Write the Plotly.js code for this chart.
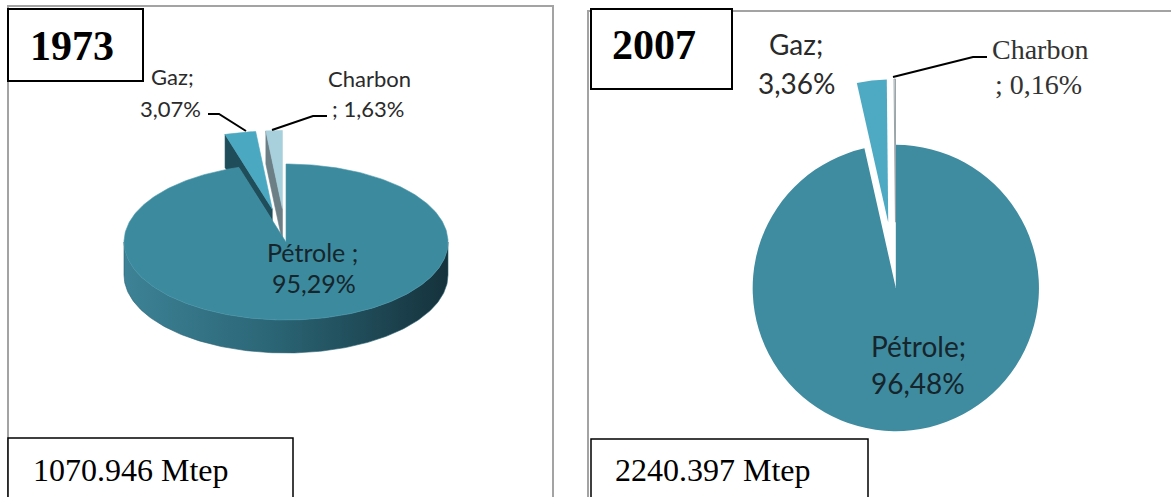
<!DOCTYPE html>
<html><head><meta charset="utf-8">
<script src="https://cdn.plot.ly/plotly-3.0.1.min.js"></script>
<style>html,body{margin:0;padding:0;background:#fff;overflow:hidden}#chart{width:1171px;height:497px}</style>
</head><body><div id="chart"></div>
<script>
// ---- data ----
const sources = ["Pétrole", "Gaz", "Charbon"];
const share1973 = [95.29, 3.07, 1.63];
const share2007 = [96.48, 3.36, 0.16];
const years = ["1973", "2007"];
const totals = ["1070.946 Mtep", "2240.397 Mtep"];

function fmt(v){ return v.toFixed(2).replace('.', ',') + '%'; }

// ---- 3D pie (1973) geometry / style ----
const G = {cx: 286, cy: 242, rx: 162, ry: 78, depth: 33};
const explode1973 = [0, 0.43, 0.43];
const top1973 = ['#3b8a9e', '#4aa8c1', '#a7d0dc'];
const wall1973 = ['#2a6373', '#1f4d5a', '#6c7f86'];

const traces = [];
function P(theta, dx, dy, down){
  const t = theta * Math.PI / 180;
  return [G.cx + dx + G.rx * Math.sin(t), G.cy + dy - G.ry * Math.cos(t) + (down || 0)];
}
function poly(pts, color, grad, lineColor){
  const tr = {type: 'scatter', mode: 'lines', x: pts.map(p => p[0]), y: pts.map(p => p[1]),
    fill: 'toself', fillcolor: color, line: {color: lineColor || color, width: 0.6},
    hoverinfo: 'skip', showlegend: false, xaxis: 'x', yaxis: 'y'};
  if (grad) tr.fillgradient = grad;
  return tr;
}
const tot73 = share1973.reduce((a, b) => a + b, 0);
let acc = 0;
const slices = share1973.map((v, i) => {
  const a0 = acc, a1 = acc + v / tot73 * 360; acc = a1;
  const mid = (a0 + a1) / 2 * Math.PI / 180;
  const k = explode1973[i];
  return {i, a0, a1, mid, dx: k * G.rx * Math.sin(mid), dy: -k * G.ry * Math.cos(mid)};
});
// back to front
slices.slice().sort((a, b) => Math.cos(b.mid) - Math.cos(a.mid)).forEach(s => {
  const apex = [G.cx + s.dx, G.cy + s.dy];
  const d = G.depth;
  const lo = Math.max(s.a0, 90), hi = Math.min(s.a1, 270);
  if (lo < hi) {
    const pts = [];
    for (let a = lo; a <= hi; a += 1) pts.push(P(a, s.dx, s.dy, 0));
    pts.push(P(hi, s.dx, s.dy, 0));
    pts.push(P(hi, s.dx, s.dy, d));
    for (let a = hi; a >= lo; a -= 1) pts.push(P(a, s.dx, s.dy, d));
    pts.push(P(lo, s.dx, s.dy, d));
    pts.push(pts[0]);
    traces.push(poly(pts, wall1973[s.i], {type: 'horizontal',
      colorscale: [[0, '#3d8296'], [0.45, '#2b6676'], [1, '#15323c']]}));
  }
  if (Math.sin(s.a0 * Math.PI / 180) < -1e-6) {
    const r = P(s.a0, s.dx, s.dy, 0);
    traces.push(poly([apex, r, [r[0], r[1] + d], [apex[0], apex[1] + d], apex], wall1973[s.i]));
  }
  if (Math.sin(s.a1 * Math.PI / 180) > 1e-6) {
    const r = P(s.a1, s.dx, s.dy, 0);
    traces.push(poly([apex, r, [r[0], r[1] + d], [apex[0], apex[1] + d], apex], wall1973[s.i]));
  }
  const pts = [apex];
  for (let a = s.a0; a < s.a1; a += 1) pts.push(P(a, s.dx, s.dy, 0));
  pts.push(P(s.a1, s.dx, s.dy, 0));
  pts.push(apex);
  traces.push(poly(pts, top1973[s.i], null, s.i === 0 ? '#4c98ac' : top1973[s.i]));
});

// ---- 2007 pie ----
traces.push({
  type: 'pie', values: share2007, labels: sources, sort: false,
  direction: 'clockwise', rotation: 0, pull: [0, 0.46, 0.46],
  marker: {colors: ['#3f8ca1', '#4eaac3', '#f1f4f5'],
           line: {color: ['#3f8ca1', '#4eaac3', '#9aa4a8'], width: [0, 0, 1]}},
  textinfo: 'none', hoverinfo: 'label+percent', showlegend: false,
  domain: {x: [0.55, 0.98], y: [0, 0.841]}
});

// ---- text ----
const sans = 'Lato, "Open Sans", sans-serif';
const serif = '"Liberation Serif", "Times New Roman", serif';
function ann(text, x, y, size, family, color, xanchor){
  return {text, x, y, xref: 'x', yref: 'y', showarrow: false, xanchor: xanchor || 'center',
    yanchor: 'middle', font: {family, size, color: color || '#222'}};
}
const annotations = [
  ann('<b>' + years[0] + '</b>', 72, 46, 42, serif, '#000'),
  ann('<b>' + years[1] + '</b>', 654, 45, 42, serif, '#000'),
  ann(totals[0], 31, 470, 32, serif, '#000', 'left'),
  ann(totals[1], 613, 470, 32, serif, '#000', 'left'),
  ann(sources[1] + ';', 172, 76, 22, sans, '#2a2a2a'),
  ann(fmt(share1973[1]), 170, 108, 22, sans, '#2a2a2a'),
  ann(sources[2], 369, 78, 22, sans, '#2a2a2a'),
  ann('; ' + fmt(share1973[2]), 368, 108, 22, sans, '#2a2a2a'),
  ann(sources[0] + ' ;', 312, 252, 25, sans, '#16252b'),
  ann(fmt(share1973[0]), 314, 283, 25, sans, '#16252b'),
  ann(sources[1] + ';', 796, 44, 28, sans, '#2a2a2a'),
  ann(fmt(share2007[1]), 797, 83, 28, sans, '#2a2a2a'),
  ann(sources[2], 1040, 49, 28, serif, '#333'),
  ann('; ' + fmt(share2007[2]), 1038, 84, 28, serif, '#333'),
  ann(sources[0] + ';', 918, 346, 28, sans, '#16252b'),
  ann(fmt(share2007[0]), 918, 383, 28, sans, '#16252b')
];

const gray = '#a3a3a3';
const shapes = [
  {type: 'rect', xref: 'x', yref: 'y', x0: 8, y0: 6, x1: 553, y1: 530, line: {color: gray, width: 2}, layer: 'below'},
  {type: 'rect', xref: 'x', yref: 'y', x0: 588, y0: 11, x1: 1200, y1: 530, line: {color: gray, width: 2}, layer: 'below'},
  {type: 'rect', xref: 'x', yref: 'y', x0: 8, y0: 9, x1: 143, y1: 81, line: {color: '#000', width: 2}, fillcolor: '#fff'},
  {type: 'rect', xref: 'x', yref: 'y', x0: 591, y0: 9, x1: 732, y1: 89, line: {color: '#000', width: 2}, fillcolor: '#fff'},
  {type: 'rect', xref: 'x', yref: 'y', x0: 8, y0: 438, x1: 293, y1: 530, line: {color: '#000', width: 1.5}, fillcolor: '#fff'},
  {type: 'rect', xref: 'x', yref: 'y', x0: 591, y0: 439, x1: 868, y1: 530, line: {color: '#000', width: 1.5}, fillcolor: '#fff'},
  {type: 'path', xref: 'x', yref: 'y', path: 'M208,114 L219,114 L246,131', line: {color: '#000', width: 2}},
  {type: 'path', xref: 'x', yref: 'y', path: 'M327,116 L313,116 L272,130', line: {color: '#000', width: 2}},
  {type: 'path', xref: 'x', yref: 'y', path: 'M893,77 L973,57 L987,57', line: {color: '#000', width: 2}}
];

const layout = {
  width: 1171, height: 497, margin: {l: 0, r: 0, t: 0, b: 0},
  paper_bgcolor: '#fff', plot_bgcolor: 'rgba(0,0,0,0)',
  xaxis: {range: [0, 1171], visible: false, fixedrange: true, domain: [0, 1]},
  yaxis: {range: [497, 0], visible: false, fixedrange: true, domain: [0, 1]},
  shapes, annotations, showlegend: false
};
Plotly.newPlot('chart', traces, layout, {displayModeBar: false, staticPlot: true});
</script>
</body></html>
